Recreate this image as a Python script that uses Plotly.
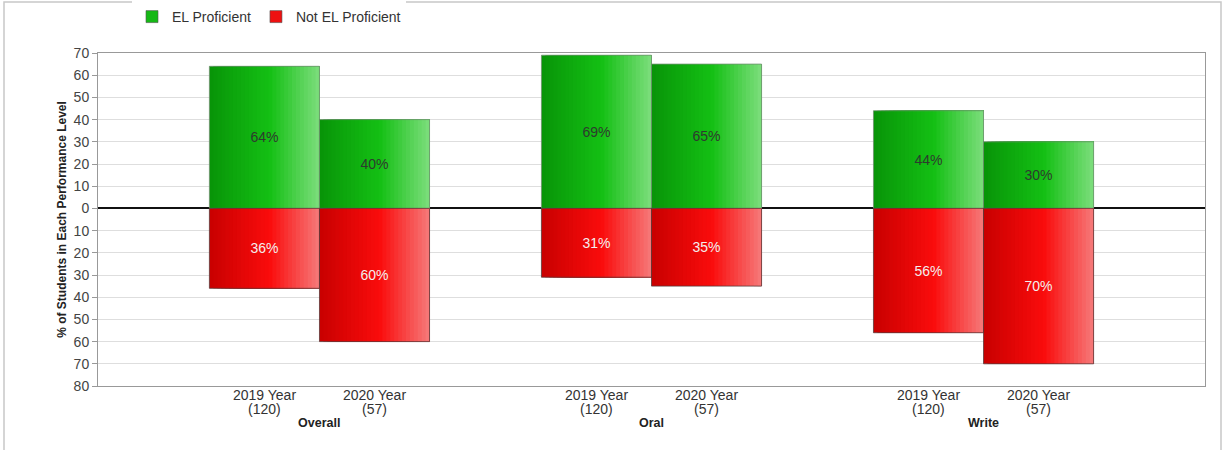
import plotly.graph_objects as go

# ---- data ----
groups = ["Overall", "Oral", "Write"]
years = ["2019 Year", "2020 Year"]
counts = {"2019 Year": [120, 120, 120], "2020 Year": [57, 57, 57]}
el_proficient = {"2019 Year": [64, 69, 44], "2020 Year": [40, 65, 30]}
not_el_proficient = {"2019 Year": [36, 31, 56], "2020 Year": [60, 35, 70]}
y_ticks = [70, 60, 50, 40, 30, 20, 10, 0, -10, -20, -30, -40, -50, -60, -70, -80]

# ---- style ----
GREEN_STOPS = [(0.0, (8, 148, 8)), (0.55, (20, 192, 20)), (1.0, (125, 222, 125))]
RED_STOPS = [(0.0, (200, 0, 0)), (0.55, (250, 12, 12)), (1.0, (246, 122, 122))]
GREEN_MID = "#16b816"
RED_MID = "#ee1010"
FONT = "Liberation Sans, Arial, sans-serif"
W, H = 1225, 450
ML, MR, MT, MB = 98, 20, 53, 64
X_RANGE = [-0.667, 2.667]
BARGAP = 0.337
N_SLICES = 28


def grad_color(stops, t):
    for (t0, c0), (t1, c1) in zip(stops[:-1], stops[1:]):
        if t <= t1:
            f = (t - t0) / (t1 - t0)
            c = [round(a + (b - a) * f) for a, b in zip(c0, c1)]
            return f"rgb({c[0]},{c[1]},{c[2]})"
    c = stops[-1][1]
    return f"rgb({c[0]},{c[1]},{c[2]})"


bar_w = (1 - BARGAP) / len(years)
slice_w = bar_w / N_SLICES

fig = go.Figure()


def add_series(values_by_year, sign, stops, text_color, edge):
    for yi, yr in enumerate(years):
        vals = [sign * v for v in values_by_year[yr]]
        start = -bar_w * len(years) / 2 + yi * bar_w
        # gradient: each slice spans from its start to the bar's right edge,
        # later slices overlay earlier ones (no seams)
        for k in range(N_SLICES):
            t = (k + 0.5) / N_SLICES
            fig.add_trace(go.Bar(
                x=groups, y=vals, width=bar_w - k * slice_w,
                offset=start + k * slice_w,
                marker=dict(color=grad_color(stops, t), line=dict(width=0)),
                showlegend=False, hoverinfo="skip",
            ))
        # outline + label
        fig.add_trace(go.Bar(
            x=groups, y=vals, width=bar_w, offset=start,
            marker=dict(color="rgba(0,0,0,0)", line=dict(color=edge, width=0.8)),
            text=[f"{v}%" for v in values_by_year[yr]], textposition="inside",
            insidetextanchor="middle", textangle=0,
            textfont=dict(color=text_color, size=14, family=FONT),
            showlegend=False, hoverinfo="skip",
        ))


add_series(el_proficient, 1, GREEN_STOPS, "#2e3a2e", "#6f8f6f")
add_series(not_el_proficient, -1, RED_STOPS, "#f4eeee", "#5a3a3a")

# legend entries
fig.add_trace(go.Bar(x=groups, y=[None] * len(groups), name="EL Proficient",
                     marker=dict(color=GREEN_MID, line=dict(color="#555555", width=0.6))))
fig.add_trace(go.Bar(x=groups, y=[None] * len(groups), name="Not EL Proficient",
                     marker=dict(color=RED_MID, line=dict(color="#555555", width=0.6))))

# labels under each bar
plot_w = W - ML - MR
plot_h = H - MT - MB
px_per_unit = plot_w / (X_RANGE[1] - X_RANGE[0])
annotations = []
for gi, g in enumerate(groups):
    for yi, yr in enumerate(years):
        shift = (yi - (len(years) - 1) / 2) * bar_w * px_per_unit
        for line_text, ys in ((yr, -9), (f"({counts[yr][gi]})", -23)):
            annotations.append(dict(
                x=g, y=0, xref="x", yref="paper", xshift=shift, yshift=ys,
                yanchor="middle", showarrow=False, text=line_text,
                font=dict(size=14, color="#333333", family=FONT),
            ))
    annotations.append(dict(
        x=g, y=0, xref="x", yref="paper", yshift=-37, yanchor="middle",
        showarrow=False, text=f"<b>{g}</b>",
        font=dict(size=12.5, color="#222222", family=FONT),
    ))

fig.update_layout(
    width=W, height=H,
    margin=dict(l=ML, r=MR, t=MT, b=MB, autoexpand=False),
    paper_bgcolor="white", plot_bgcolor="white",
    barmode="overlay",
    font=dict(family=FONT, size=14, color="#444444"),
    legend=dict(orientation="h", xref="container", yref="container",
                x=132 / W, y=1 - 17 / H, yanchor="middle", xanchor="left",
                font=dict(size=14, color="#333333"), traceorder="normal"),
    annotations=annotations,
    shapes=[dict(type="rect", xref="paper", yref="paper",
                 x0=(4 - ML) / plot_w, x1=(1221 - ML) / plot_w,
                 y0=(H - MB - 460) / plot_h, y1=(H - MB - 2) / plot_h,
                 line=dict(color="#c8c8c8", width=1.5), layer="below")],
)
fig.update_xaxes(
    range=X_RANGE, showticklabels=False, showgrid=False, ticks="",
    showline=True, linecolor="#999999", linewidth=1, mirror=True,
)
fig.update_yaxes(
    range=[-80, 70], tickvals=y_ticks, ticktext=[str(abs(v)) for v in y_ticks],
    showgrid=True, gridcolor="#dedede", gridwidth=1,
    zeroline=True, zerolinecolor="#111111", zerolinewidth=2,
    showline=True, linecolor="#999999", linewidth=1, mirror=True,
    ticks="outside", ticklen=5, tickcolor="#999999",
    tickfont=dict(size=14, color="#444444"),
    title=dict(text="<b>% of Students in Each Performance Level</b>",
               font=dict(size=12, color="#222222"), standoff=4),
)

fig.write_html("out.html")
